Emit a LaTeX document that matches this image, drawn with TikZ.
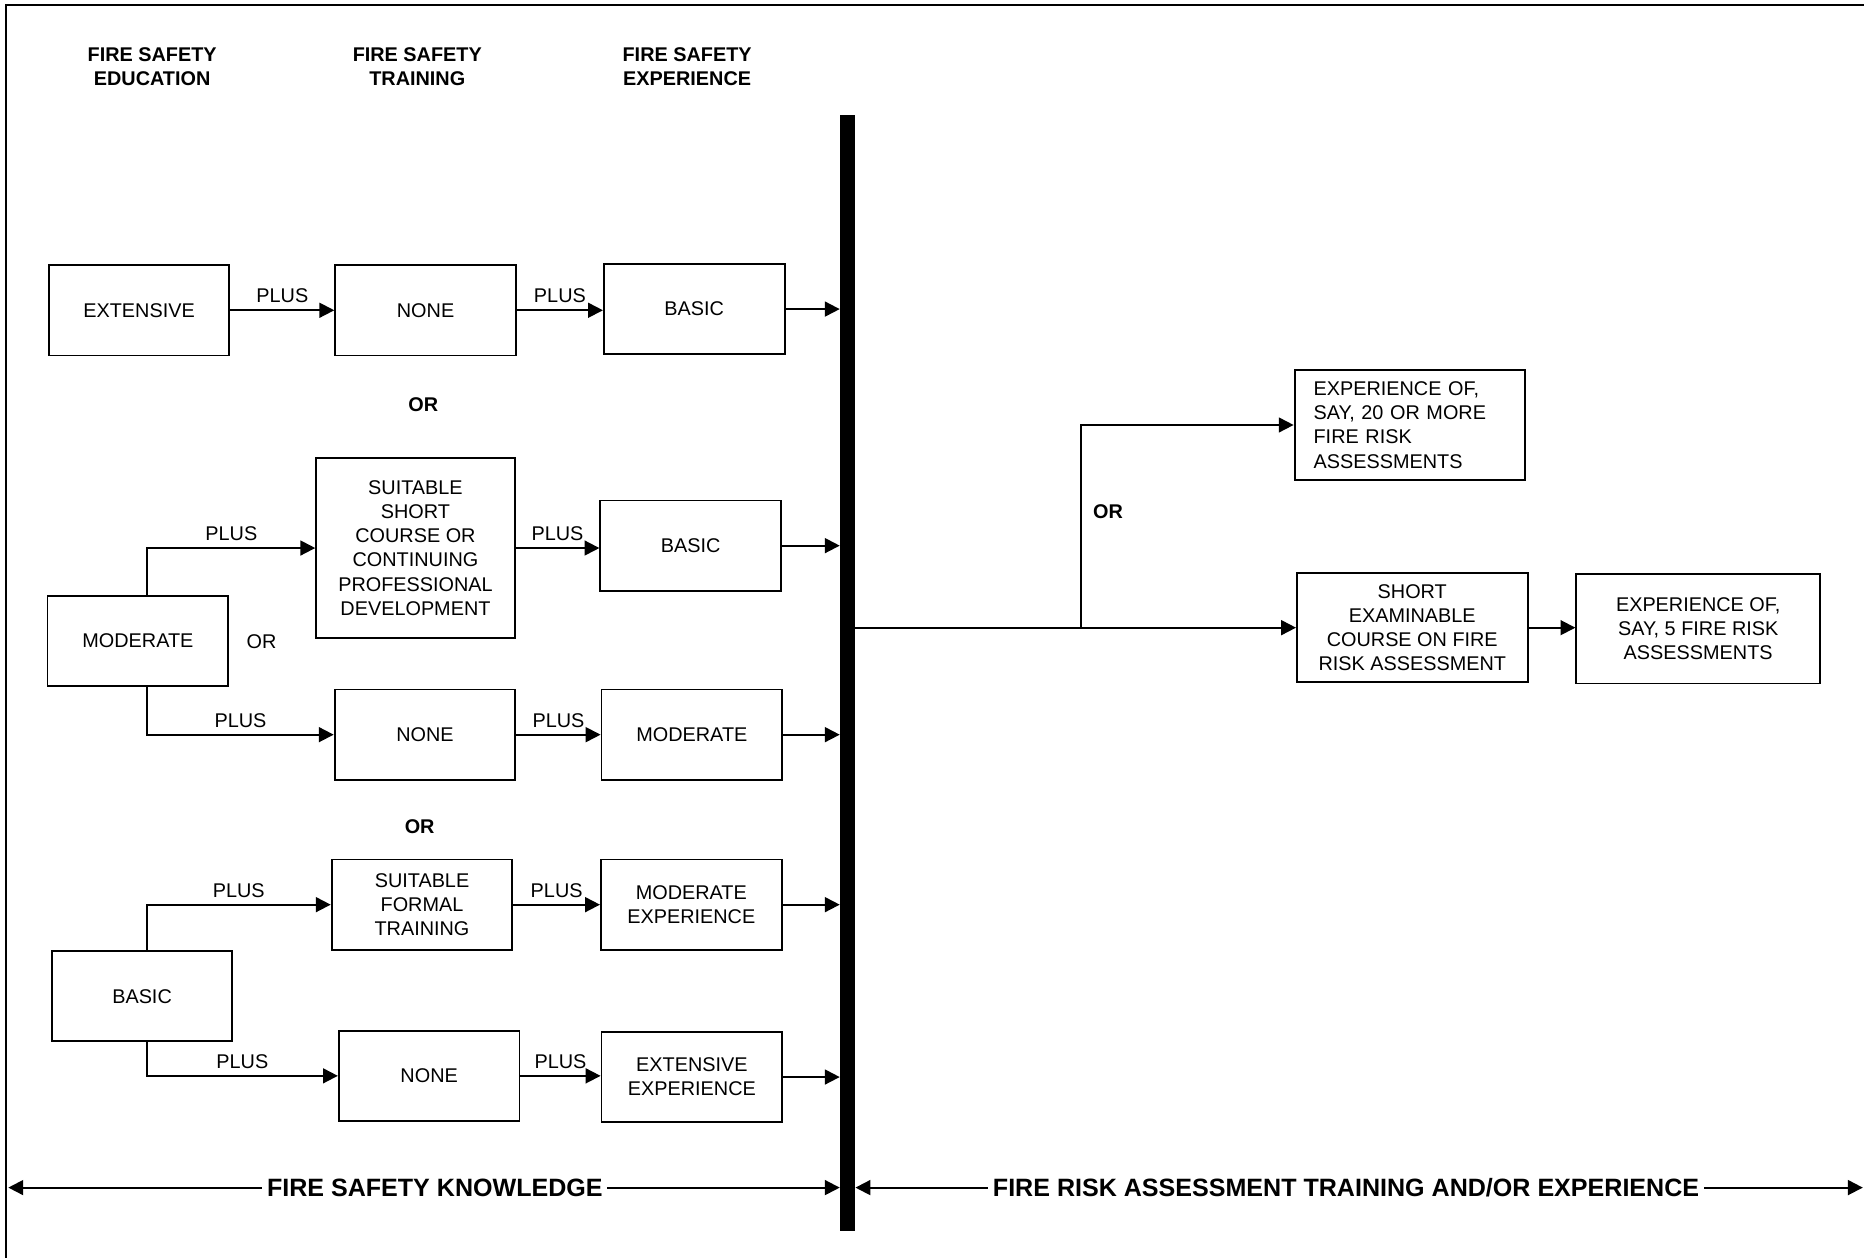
\documentclass[tikz,border=0pt]{standalone}
\usepackage{fontspec}
\setmainfont{Liberation Sans}
\usetikzlibrary{arrows.meta}

\begin{document}
\begin{tikzpicture}[x=0.2mm,y=-0.2mm,
    box/.style={draw,line width=0.9pt,minimum width=30.4mm,minimum height=15.2mm,
      inner sep=1pt,align=center,font=\fontsize{9.5}{11.6}\selectfont},
    arr/.style={line width=0.9pt,-{Triangle[length=2.5mm,width=2.5mm]}},
    dblarr/.style={line width=0.9pt,{Triangle[length=2.5mm,width=2.5mm]}-{Triangle[length=2.5mm,width=2.5mm]}},
    lbl/.style={font=\fontsize{9.5}{11.6}\selectfont,inner sep=3pt},
    head/.style={align=center,font=\fontsize{9.5}{11.6}\selectfont\bfseries,inner sep=0pt},
    span/.style={fill=white,inner xsep=0.8mm,inner ysep=0pt,font=\fontsize{12}{14}\selectfont\bfseries}]
  \useasboundingbox (0,0) rectangle (1568,1058);
  \draw[line width=1pt] (5,1058) -- (5,4) -- (1568,4);

  % column heads
  \node[head] (hEdu) at (128,56) {FIRE SAFETY\\EDUCATION};
  \node[head] (hTrn) at (351,56) {FIRE SAFETY\\TRAINING};
  \node[head] (hExp) at (578,56) {FIRE SAFETY\\EXPERIENCE};

  % dividing bar
  \node[fill,minimum width=2.5mm,minimum height=187.8mm,inner sep=0pt] (bar) at (713,566) {};

  % first route
  \node[box] (edExt) at (117,261) {EXTENSIVE};
  \node[box] (trNone1) at (358,261) {NONE};
  \node[box] (exBasic1) at (584,260) {BASIC};
  \draw[arr] (edExt.east) -- node[lbl,above]{PLUS} (edExt.east -| trNone1.west);
  \draw[arr] (trNone1.east) -- node[lbl,above]{PLUS} (trNone1.east -| exBasic1.west);
  \draw[arr] (exBasic1.east) -- (exBasic1.east -| bar.west);
  \node[head] (or1) at (356,340) {OR};

  % second route
  \node[box] (edMod) at (116,539) {MODERATE};
  \node[box,minimum width=33.4mm,minimum height=30.2mm] (trCourse) at (349.5,461)
    {SUITABLE\\SHORT\\COURSE OR\\CONTINUING\\PROFESSIONAL\\DEVELOPMENT};
  \node[box] (exBasic2) at (581,459) {BASIC};
  \node[box] (trNone2) at (357.5,618) {NONE};
  \node[box] (exMod) at (582,618) {MODERATE};
  \node[lbl] (or2) at (220,540) {OR};
  \draw[arr] ([xshift=1.6mm]edMod.north) |- node[lbl,pos=0.75,above]{PLUS} (trCourse.west);
  \draw[arr] (trCourse.east) -- node[lbl,above]{PLUS} (trCourse.east -| exBasic2.west);
  \draw[arr] (exBasic2.east) -- (exBasic2.east -| bar.west);
  \draw[arr] ([xshift=1.6mm]edMod.south) |- node[lbl,pos=0.75,above]{PLUS} (trNone2.west);
  \draw[arr] (trNone2.east) -- node[lbl,above]{PLUS} (trNone2.east -| exMod.west);
  \draw[arr] (exMod.east) -- (exMod.east -| bar.west);
  \node[head] (or3) at (353,695) {OR};

  % third route
  \node[box] (edBasic) at (119.5,838) {BASIC};
  \node[box] (trFormal) at (355,761) {SUITABLE\\FORMAL\\TRAINING};
  \node[box] (exModExp) at (581.5,761) {MODERATE\\EXPERIENCE};
  \node[box] (trNone3) at (361,905) {NONE};
  \node[box] (exExtExp) at (582,906) {EXTENSIVE\\EXPERIENCE};
  \draw[arr] ([xshift=0.8mm]edBasic.north) |- node[lbl,pos=0.75,above]{PLUS} (trFormal.west);
  \draw[arr] (trFormal.east) -- node[lbl,above]{PLUS} (trFormal.east -| exModExp.west);
  \draw[arr] (exModExp.east) -- (exModExp.east -| bar.west);
  \draw[arr] ([xshift=0.8mm]edBasic.south) |- node[lbl,pos=0.75,above]{PLUS} (trNone3.west);
  \draw[arr] (trNone3.east) -- node[lbl,above]{PLUS} (trNone3.east -| exExtExp.west);
  \draw[arr] (exExtExp.east) -- (exExtExp.east -| bar.west);

  % risk assessment side
  \node[box,minimum height=18.6mm,text width=32.4mm,inner xsep=3.2mm,align=left] (frTwenty) at (1186,357.5)
    {EXPERIENCE OF,\\SAY, 20 OR MORE\\FIRE RISK\\ASSESSMENTS};
  \node[box,minimum width=38.8mm,minimum height=18.4mm] (frCourse) at (1188,528)
    {SHORT\\EXAMINABLE\\COURSE ON FIRE\\RISK ASSESSMENT};
  \node[box,minimum width=41mm,minimum height=18.4mm] (frFive) at (1428.5,529)
    {EXPERIENCE OF,\\SAY, 5 FIRE RISK\\ASSESSMENTS};
  \coordinate (fork) at (909,528);
  \draw[arr] (bar.east |- frCourse.west) -- (frCourse.west);
  \draw[arr] (fork) |- (frTwenty.west);
  \node[head] (or4) at (932,430) {OR};
  \draw[arr] (frCourse.east) -- (frCourse.east -| frFive.west);

  % spans along the bottom
  \coordinate (kLeft) at (7,999);
  \coordinate (kRight) at (1567,999);
  \draw[dblarr] (kLeft) -- node[span,pos=0.513]{FIRE SAFETY KNOWLEDGE} (kLeft -| bar.west);
  \draw[dblarr] (kRight -| bar.east) -- node[span,pos=0.487]{FIRE RISK ASSESSMENT TRAINING AND/OR EXPERIENCE} (kRight);
\end{tikzpicture}
\end{document}
